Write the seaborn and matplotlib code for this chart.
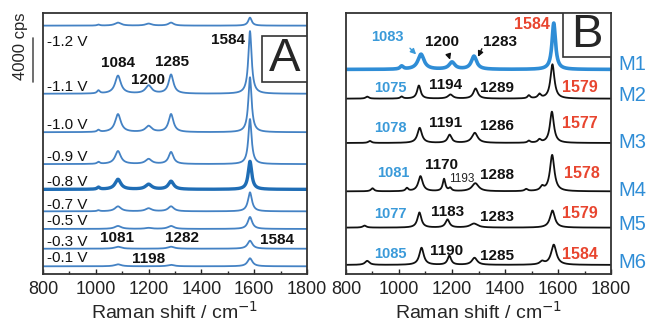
import numpy as np
import pandas as pd
import matplotlib.pyplot as plt
import seaborn as sns
from matplotlib.patches import Rectangle
from matplotlib.ticker import MultipleLocator

# ---- panel A: potential series (offsets / peaks in cps) ----
volts = ["-1.2 V", "-1.1 V", "-1.0 V", "-0.9 V", "-0.8 V", "-0.7 V", "-0.5 V", "-0.3 V", "-0.1 V"]
offsets_a = [22600, 16400, 12900, 10000, 7700, 5700, 4100, 2300, 700]
# peaks: (center cm-1, height cps, fwhm cm-1)
peaks_a = [
    [(1010, 90, 12), (1084, 270, 28), (1200, 180, 28), (1285, 270, 24), (1584, 730, 16)],
    [(1010, 270, 12), (1084, 1640, 26), (1200, 730, 28), (1285, 1730, 22), (1584, 5700, 15)],
    [(1010, 180, 12), (1084, 1640, 26), (1200, 550, 28), (1285, 1640, 22), (1584, 5000, 15)],
    [(1010, 180, 12), (1084, 1180, 26), (1200, 450, 28), (1285, 1090, 22), (1584, 4100, 15)],
    [(1010, 180, 12), (1084, 910, 26), (1200, 450, 28), (1285, 730, 24), (1584, 2550, 16)],
    [(1010, 90, 12), (1084, 450, 28), (1200, 270, 28), (1285, 450, 26), (1584, 1730, 18)],
    [(1084, 270, 30), (1200, 90, 30), (1285, 270, 28), (1584, 1090, 20)],
    [(1084, 180, 30), (1285, 180, 30), (1584, 730, 22)],
    [(1084, 180, 30), (1285, 130, 30), (1584, 730, 22)],
]
volt_text_y = [21100, 17000, 13560, 10650, 8370, 6280, 4820, 2910, 1460]
labels_a = ["1584", "1084", "1285", "1200", "1081", "1282", "1584", "1198"]
labels_a_x = [1501, 1084, 1289, 1198, 1080, 1326, 1686, 1198]
labels_a_y = [21300, 19200, 19300, 17650, 3280, 3280, 3090, 1370]

# ---- panel B: samples M1..M6 (a.u.) ----
samples = ["M1", "M2", "M3", "M4", "M5", "M6"]
offsets_b = [203, 174, 130, 82, 46, 9]
peaks_b = [
    [(1010, 3, 14), (1083, 15, 28), (1200, 7, 26), (1283, 13, 24), (1584, 46, 16)],
    [(880, 2, 14), (1010, 2, 12), (1075, 13, 16), (1194, 4, 22), (1289, 10, 20),
     (1490, 3, 12), (1530, 4, 14), (1579, 34, 18)],
    [(890, 2, 14), (1078, 15, 20), (1191, 8, 18), (1286, 10, 26), (1490, 2, 12),
     (1530, 3, 14), (1577, 31, 18)],
    [(900, 3, 14), (1030, 3, 12), (1081, 15, 20), (1170, 12, 12), (1193, 3, 12),
     (1288, 8, 30), (1480, 2, 14), (1540, 4, 16), (1578, 36, 20)],
    [(870, 2, 16), (1077, 15, 18), (1183, 8, 18), (1283, 4, 34), (1579, 17, 22)],
    [(880, 4, 20), (1085, 17, 20), (1190, 9, 16), (1285, 7, 24), (1540, 3, 20), (1584, 20, 24)],
]
m_text_y = [65, 95, 142, 190, 225, 263]
blue_lab = ["1083", "1075", "1078", "1081", "1077", "1085"]
blue_x = [955, 966, 966, 977, 966, 966]
blue_y = [235, 185, 145, 100, 60, 20]
black_lab = ["1200", "1283", "1194", "1289", "1191", "1286", "1170", "1288", "1183", "1283", "1190", "1285"]
black_x = [1162, 1381, 1174, 1370, 1174, 1370, 1162, 1370, 1185, 1370, 1181, 1370]
black_y = [230, 230, 188, 185, 150, 147, 108, 98, 62, 57, 23, 18]
red_lab = ["1584", "1579", "1577", "1578", "1579", "1584"]
red_x = [1502, 1683, 1683, 1690, 1683, 1683]
red_y = [248, 185, 149, 100, 60, 19]

wn = np.linspace(800, 1800, 2001)


def spectrum(peaks, base):
    y = np.full_like(wn, float(base))
    for c, h, w in peaks:
        y += h / (1 + ((wn - c) / (w / 2)) ** 2)
    return y


df_a = pd.concat([pd.DataFrame({"x": wn, "y": spectrum(p, o), "s": v})
                  for v, p, o in zip(volts, peaks_a, offsets_a)])
df_b = pd.concat([pd.DataFrame({"x": wn, "y": spectrum(p, o), "s": m})
                  for m, p, o in zip(samples, peaks_b, offsets_b)])

sns.set_theme(style="ticks")
plt.rcParams["font.family"] = ["Liberation Sans", "DejaVu Sans"]

fig = plt.figure(figsize=(6.55, 3.23), dpi=100)
axA = fig.add_axes([43 / 655, 49 / 323, 264 / 655, 261 / 323])
axB = fig.add_axes([346 / 655, 49 / 323, 265 / 655, 261 / 323])

line_blue = "#4482c4"
pal_a = {v: line_blue for v in volts}
pal_a["-0.8 V"] = "#1f6db5"
sns.lineplot(data=df_a, x="x", y="y", hue="s", palette=pal_a, legend=False,
             ax=axA, linewidth=1.3, estimator=None, sort=False)
for ln, v in zip(axA.get_lines(), volts):
    if v == "-0.8 V":
        ln.set_linewidth(2.4)

pal_b = {m: "#111111" for m in samples}
pal_b["M1"] = "#2f8dd6"
sns.lineplot(data=df_b, x="x", y="y", hue="s", palette=pal_b, legend=False,
             ax=axB, linewidth=1.3, estimator=None, sort=False)
for ln, m in zip(axB.get_lines(), samples):
    if m == "M1":
        ln.set_linewidth(2.6)

for ax in (axA, axB):
    ax.set_xlim(800, 1800)
    ax.set_yticks([])
    ax.set_ylabel("")
    ax.xaxis.set_major_locator(MultipleLocator(200))
    ax.xaxis.set_minor_locator(MultipleLocator(100))
    ax.tick_params(axis="x", direction="in", length=3.5, width=1, labelsize=13,
                   pad=5, colors="#222222")
    ax.tick_params(axis="x", which="minor", direction="in", length=2, width=1)
    ax.set_xlabel("Raman shift / cm$^{-1}$", fontsize=14, labelpad=2)
    for sp in ax.spines.values():
        sp.set_color("#333333")
        sp.set_linewidth(1.3)
axA.set_ylim(0, 23750)
axB.set_ylim(0, 259)

# panel A text
for v, ty in zip(volts, volt_text_y):
    axA.text(815, ty, v, fontsize=11, ha="left", va="center", color="#111111")
for t, x, y in zip(labels_a, labels_a_x, labels_a_y):
    axA.text(x, y, t, fontsize=11, fontweight="bold", ha="center", va="center", color="#111111")
axA.add_patch(Rectangle((0.83, 0.735), 0.17, 0.175, transform=axA.transAxes,
                        facecolor="white", edgecolor="#333333", linewidth=1.2, zorder=3))
axA.text(0.915, 0.822, "A", transform=axA.transAxes, fontsize=34, ha="center",
         va="center", zorder=4)

# scale bar
fig.add_artist(plt.Line2D([33 / 655, 33 / 655], [1 - 38 / 323, 1 - 82 / 323],
                          color="#555555", linewidth=1.2))
fig.text(21 / 655, 1 - 46 / 323, "4000 cps", rotation=90, fontsize=12,
         ha="center", va="center")

# panel B text
for t, x, y in zip(blue_lab, blue_x, blue_y):
    axB.text(x, y, t, fontsize=10.5, fontweight="bold", ha="center", va="center", color="#3a9ad9")
for t, x, y in zip(black_lab, black_x, black_y):
    axB.text(x, y, t, fontsize=11, fontweight="bold", ha="center", va="center", color="#111111")
axB.text(1238, 94, "1193", fontsize=8.5, ha="center", va="center", color="#222222")
for t, x, y in zip(red_lab, red_x, red_y):
    axB.text(x, y, t, fontsize=11.5, fontweight="bold", ha="center", va="center", color="#e8452f")

arrow_kw = dict(arrowstyle="-|>", color="#111111", linewidth=1, mutation_scale=8)
axB.annotate("", xy=(1072, 216), xytext=(1034, 226),
             arrowprops=dict(arrowstyle="-|>", color="#3a9ad9", linewidth=1, mutation_scale=8))
axB.annotate("", xy=(1196, 210), xytext=(1185, 219), arrowprops=arrow_kw)
axB.annotate("", xy=(1294, 213), xytext=(1317, 226), arrowprops=arrow_kw)

axB.add_patch(Rectangle((0.82, 0.83), 0.18, 0.17, transform=axB.transAxes,
                        facecolor="white", edgecolor="#333333", linewidth=1.2, zorder=3))
axB.text(0.91, 0.915, "B", transform=axB.transAxes, fontsize=34, ha="center",
         va="center", zorder=4)

for m, ty in zip(samples, m_text_y):
    fig.text(618 / 655, 1 - ty / 323, m, fontsize=14.5, color="#2f8dd6",
             ha="left", va="center")

fig.savefig("out.png", dpi=100)
